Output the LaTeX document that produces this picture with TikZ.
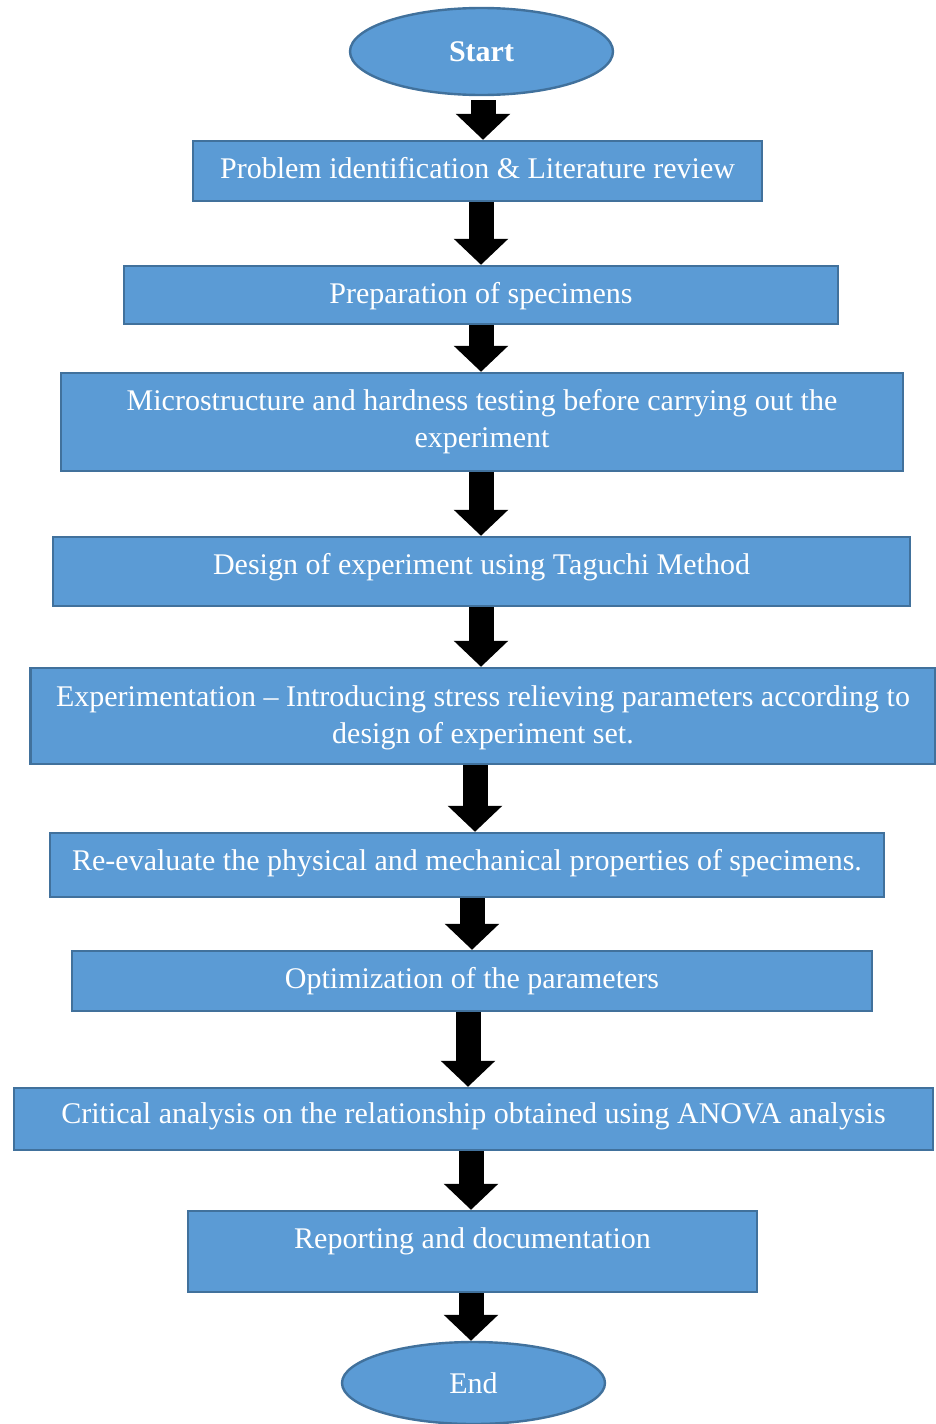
\documentclass[tikz,border=0pt]{standalone}
\usepackage{fontspec}
\setmainfont{Liberation Serif}
\usetikzlibrary{arrows.meta,shapes.geometric}
\definecolor{boxfill}{HTML}{5B9BD5}
\definecolor{boxline}{HTML}{41719C}

\begin{document}
\begin{tikzpicture}[x=0.5pt, y=-0.5pt,
		stage/.style={draw=boxline, line width=1.2pt, fill=boxfill, text=white, inner sep=2pt,
			font=\fontsize{15}{18.5}\selectfont, align=center},
		terminal/.style={stage, ellipse},
		flow/.style={line width=12.5pt, -{Triangle[width=26.5pt, length=13pt]}}]
			%%%%% START %%%%%
			\useasboundingbox (0, 0) rectangle (936, 1424);
			
			\node[terminal, minimum width=131.5pt, minimum height=43.5pt] (start) at (481.5, 51.5) {\textbf{Start}};
			
			\node[stage, minimum width=284.5pt, minimum height=30pt, text depth=3pt] (p1) at (477.5, 171) {Problem identification \& Literature review};
			\node[stage, minimum width=357pt, minimum height=29pt, text depth=2.5pt] (p2) at (481, 295) {Preparation of specimens};
			\node[stage, minimum width=421pt, minimum height=49pt, text depth=3.5pt] (p3) at (482, 422) {Microstructure and hardness testing before carrying out the\\experiment};
			\node[stage, minimum width=428.5pt, minimum height=34.5pt, text depth=7.8pt] (p4) at (481.5, 571.5) {Design of experiment using Taguchi Method};
			\node[stage, minimum width=452.5pt, minimum height=48pt, text depth=1.5pt] (p5) at (483, 716) {Experimentation -- Introducing stress relieving parameters according to\\design of experiment set.};
			\node[stage, minimum width=417pt, minimum height=32pt, text depth=5.3pt] (p6) at (467, 865) {Re-evaluate the physical and mechanical properties of specimens.};
			\node[stage, minimum width=400pt, minimum height=30pt, text depth=3.3pt] (p7) at (472, 981) {Optimization of the parameters};
			\node[stage, minimum width=459.5pt, minimum height=31pt, text depth=6.3pt] (p8) at (473.5, 1119) {Critical analysis on the relationship obtained using ANOVA analysis};
			\node[stage, minimum width=284.5pt, minimum height=40.5pt, text depth=13.8pt] (p9) at (472.5, 1251.5) {Reporting and documentation};
			
			\node[terminal, minimum width=131.5pt, minimum height=41pt] (end) at (473.5, 1383) {End};
			
			% block arrows between the steps
			\draw[flow] ([xshift=0.75pt, yshift=-2pt]start.south) -- ([xshift=2.75pt]p1.north);
			\draw[flow] ([xshift=1.75pt]p1.south) -- (p2.north);
			\draw[flow] (p2.south) -- ([xshift=-0.5pt]p3.north);
			\draw[flow] ([xshift=-0.5pt]p3.south) -- ([xshift=-0.25pt]p4.north);
			\draw[flow] ([xshift=-0.25pt]p4.south) -- ([xshift=-1pt]p5.north);
			\draw[flow] ([xshift=-4pt]p5.south) -- ([xshift=4pt]p6.north);
			\draw[flow] ([xshift=2.5pt]p6.south) -- (p7.north);
			\draw[flow] ([xshift=-2pt]p7.south) -- ([xshift=-2.75pt]p8.north);
			\draw[flow] ([xshift=-1.25pt]p8.south) -- ([xshift=-0.75pt]p9.north);
			\draw[flow] ([xshift=-0.75pt]p9.south) -- ([xshift=-1.25pt]end.north);
			
			%%%%% END %%%%%
		\end{tikzpicture}
\end{document}
